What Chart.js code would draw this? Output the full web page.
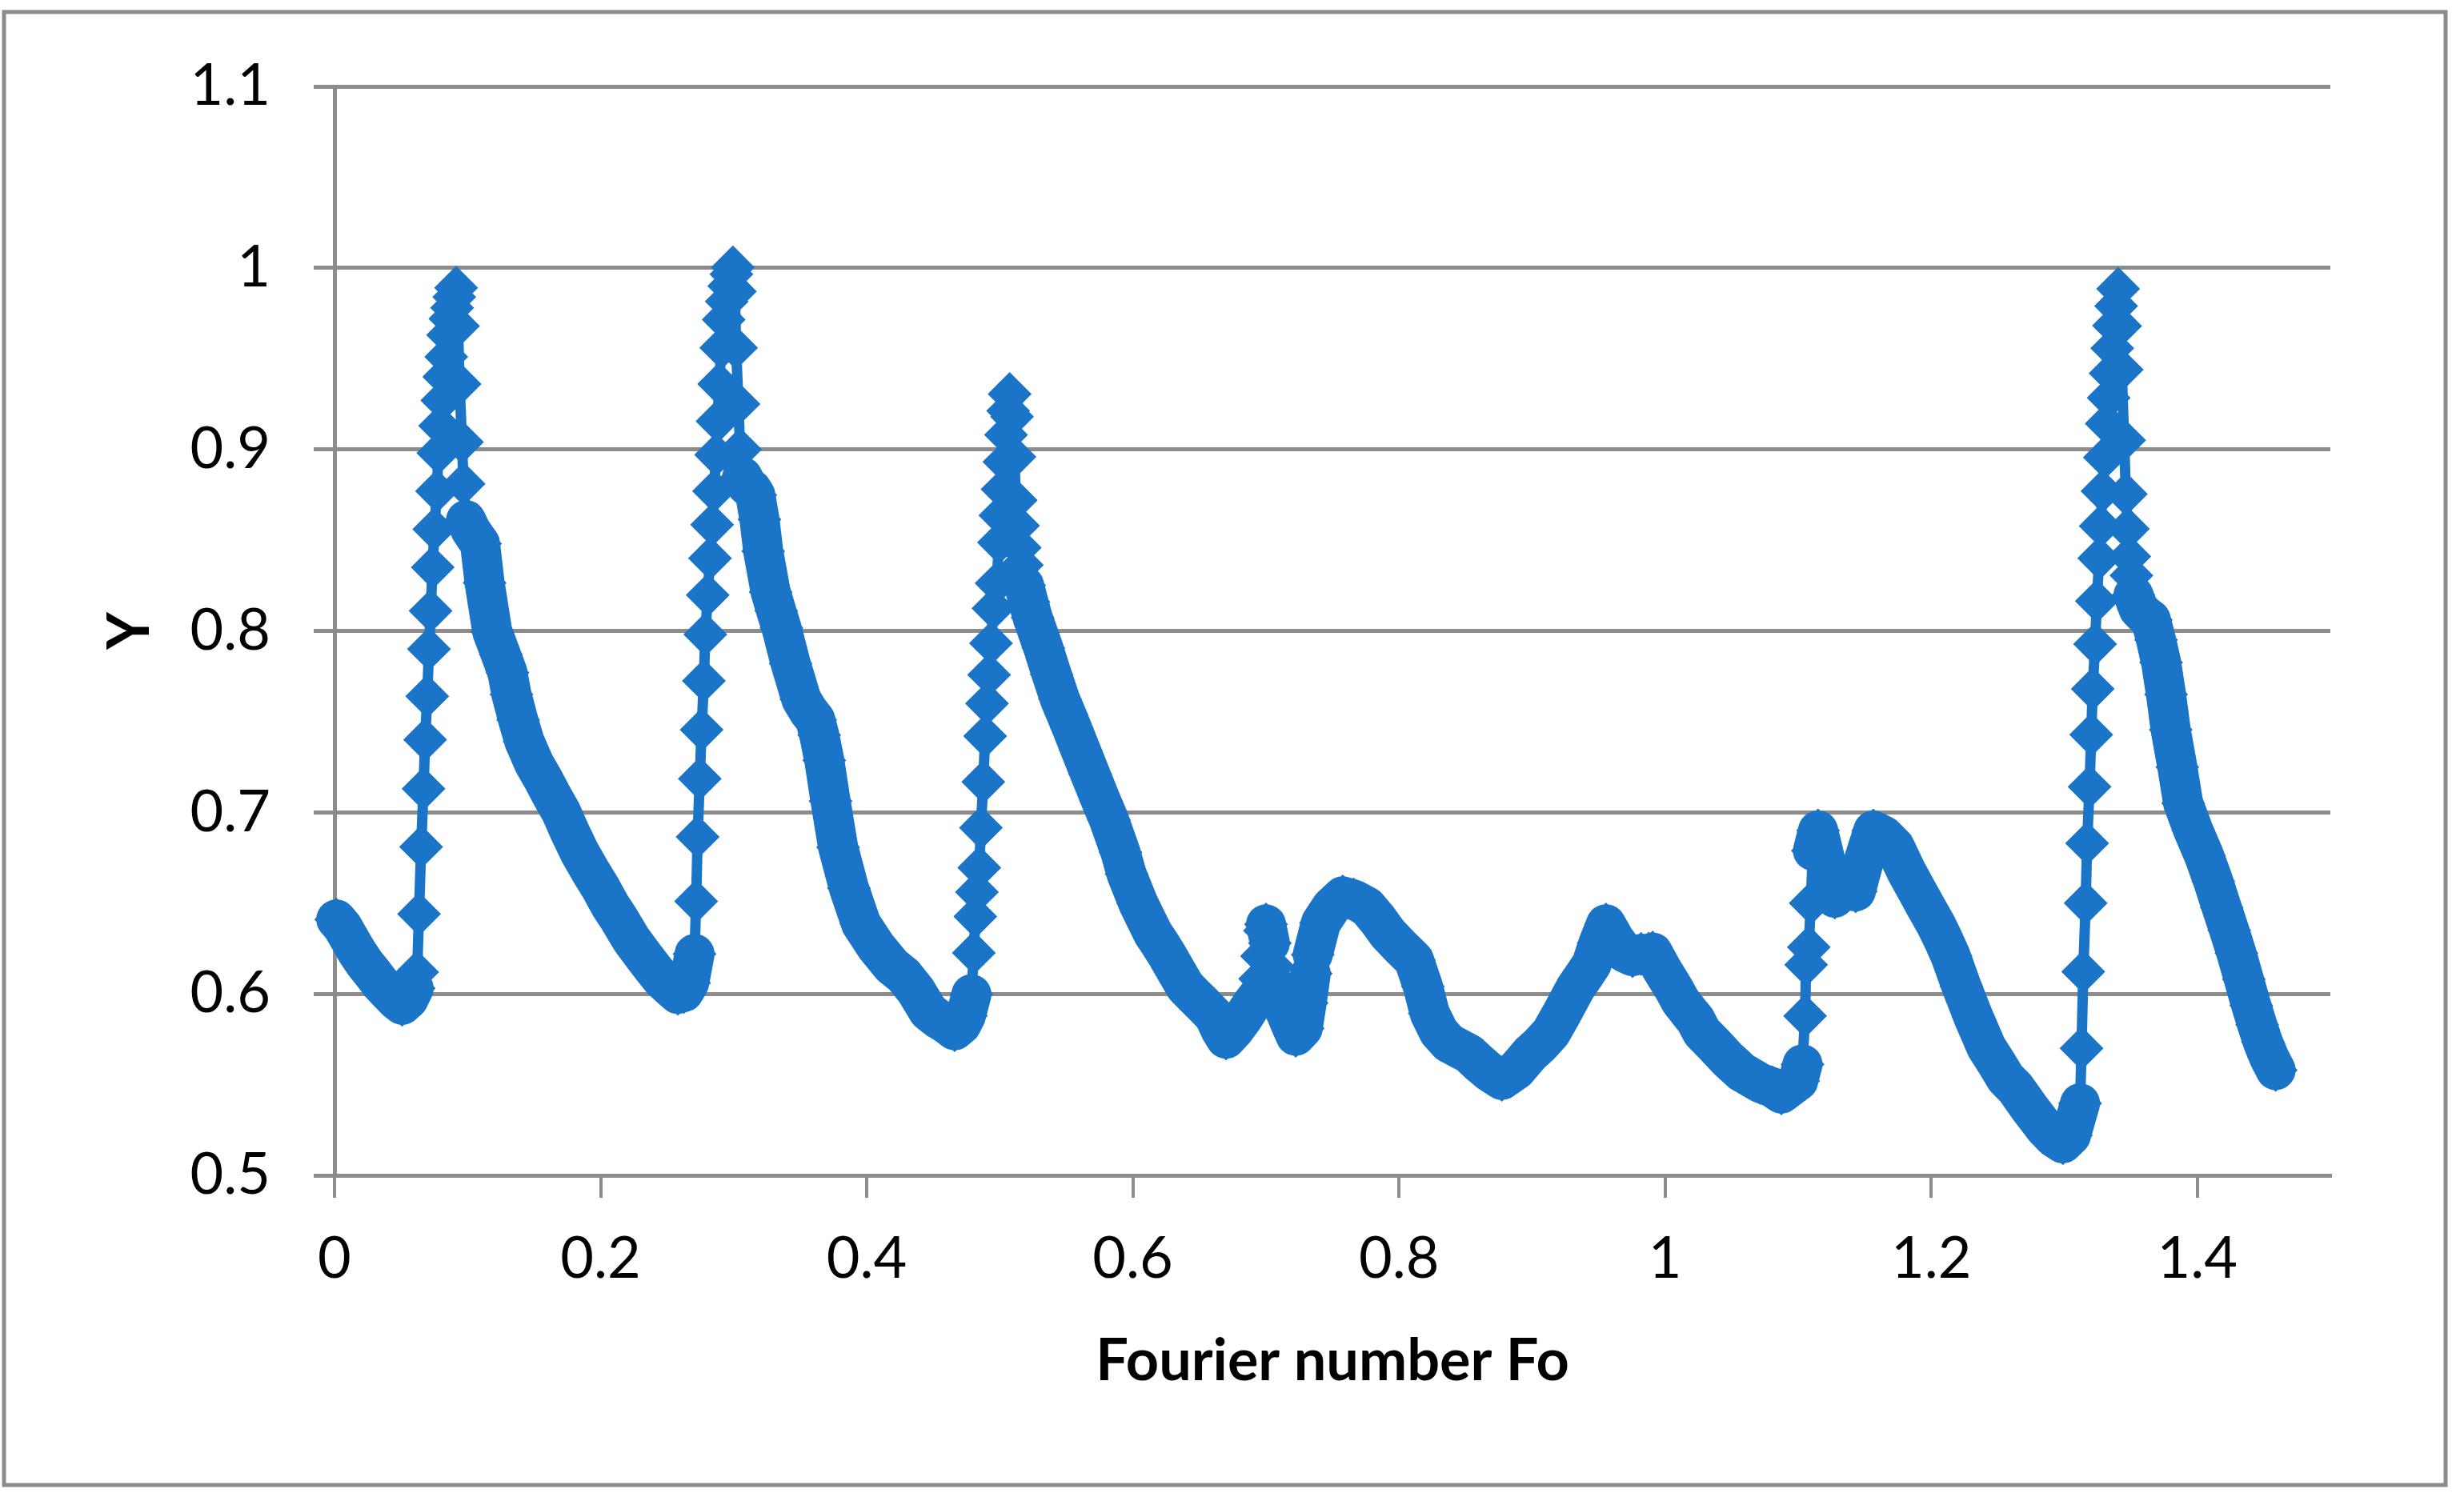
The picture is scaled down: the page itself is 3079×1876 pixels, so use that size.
<!DOCTYPE html>
<html>
<head>
<meta charset="utf-8">
<script src="https://cdn.jsdelivr.net/npm/chart.js@4.4.1/dist/chart.umd.min.js"></script>
<style>
  html, body { margin: 0; padding: 0; background: #ffffff; }
  #wrap { position: relative; width: 3079px; height: 1876px; }
  canvas { display: block; }
</style>
</head>
<body>
<div id="wrap"><canvas id="chart" width="3079" height="1876"></canvas></div>
<script>
// ---- Data (in time order) ----
const fourierNumber = [
  0.0013, 0.0060, 0.0115, 0.0170, 0.0230, 0.0290, 0.0347, 0.0405, 0.0462, 0.0508, 0.0555, 0.0595,
  0.0621, 0.0635, 0.0651, 0.0669, 0.0681, 0.0697, 0.0710, 0.0722, 0.0738, 0.0750, 0.0770, 0.0780, 0.0794, 0.0810, 0.0825, 0.0840, 0.0854, 0.0870, 0.0884, 0.0900, 0.0914,
  0.0928, 0.0940, 0.0958, 0.0970, 0.0988, 0.1020, 0.1055, 0.1094, 0.1128, 0.1186, 0.1250, 0.1300, 0.1330, 0.1380, 0.1428, 0.1500, 0.1566, 0.1635, 0.1704, 0.1770, 0.1842, 0.1920, 0.2003, 0.2070, 0.2141, 0.2230, 0.2325, 0.2394, 0.2460, 0.2534, 0.2580, 0.2625, 0.2665,
  0.2706, 0.2718, 0.2729, 0.2745, 0.2759, 0.2776, 0.2787, 0.2805, 0.2822, 0.2838, 0.2852, 0.2868, 0.2879, 0.2891, 0.2907, 0.2925, 0.2948, 0.2967, 0.2983, 0.2994,
  0.3009, 0.3018, 0.3036, 0.3048, 0.3065, 0.3100, 0.3135, 0.3163, 0.3194, 0.3222, 0.3278, 0.3320, 0.3359, 0.3428, 0.3509, 0.3560, 0.3613, 0.3643, 0.3681, 0.3728, 0.3785, 0.3866, 0.3958, 0.4070, 0.4188, 0.4280, 0.4372, 0.4463, 0.4540, 0.4601, 0.4660, 0.4710, 0.4745,
  0.4787, 0.4805, 0.4816, 0.4828, 0.4846, 0.4858, 0.4876, 0.4890, 0.4904, 0.4920, 0.4934, 0.4952, 0.4976, 0.4994, 0.5005, 0.5021, 0.5035, 0.5047, 0.5063, 0.5074,
  0.5092, 0.5110, 0.5120, 0.5137, 0.5150, 0.5166, 0.5183, 0.5215, 0.5247, 0.5327, 0.5390, 0.5452, 0.5500, 0.5540, 0.5608, 0.5680, 0.5762, 0.5820, 0.5907, 0.5953, 0.6041, 0.6100, 0.6152, 0.6200, 0.6260, 0.6330, 0.6394, 0.6460, 0.6530, 0.6609, 0.6660, 0.6700,
  0.6760, 0.6830, 0.6890, 0.6941, 0.6956, 0.6971, 0.6993, 0.7001, 0.7030, 0.7055, 0.7080, 0.7120, 0.7170, 0.7224, 0.7276, 0.7306, 0.7337, 0.7352, 0.7414, 0.7493, 0.7577, 0.7660, 0.7760, 0.7840, 0.7916, 0.8010, 0.8113, 0.8180, 0.8232, 0.8300, 0.8374, 0.8450, 0.8527, 0.8600, 0.8680, 0.8773, 0.8880, 0.8988, 0.9060, 0.9142, 0.9230, 0.9326, 0.9390, 0.9448, 0.9500, 0.9556, 0.9620, 0.9690, 0.9755, 0.9820, 0.9877, 0.9907, 0.9976, 1.0068, 1.0119, 1.0180, 1.0229, 1.0276, 1.0367, 1.0470, 1.0575, 1.0714, 1.0805, 1.0874, 1.1000,
  1.1033, 1.1052, 1.1060, 1.1080, 1.1095, 1.1111, 1.1150, 1.1210, 1.1275, 1.1360, 1.1433, 1.1500, 1.1565, 1.1645, 1.1726, 1.1810, 1.1892, 1.1960, 1.2037, 1.2090, 1.2145, 1.2227, 1.2317, 1.2416, 1.2490, 1.2559, 1.2634, 1.2743, 1.2855, 1.2920, 1.2990, 1.3050,
  1.3119, 1.3130, 1.3143, 1.3161, 1.3172, 1.3190, 1.3203, 1.3214, 1.3232, 1.3245, 1.3263, 1.3274, 1.3287, 1.3305, 1.3319, 1.3334, 1.3348, 1.3361, 1.3374, 1.3390, 1.3405,
  1.3420, 1.3432, 1.3450, 1.3463, 1.3478, 1.3489, 1.3505, 1.3520, 1.3560, 1.3600, 1.3650, 1.3690, 1.3728, 1.3765, 1.3800, 1.3850, 1.3894, 1.3970, 1.4050, 1.4120, 1.4183, 1.4240, 1.4294, 1.4350, 1.4405, 1.4450, 1.4493, 1.4540, 1.4589
];
const responseY = [
  0.641, 0.637, 0.630, 0.623, 0.6165, 0.611, 0.6055, 0.601, 0.5967, 0.594, 0.597, 0.603,
  0.612, 0.644, 0.681, 0.713, 0.740, 0.764, 0.790, 0.811, 0.835, 0.856, 0.877, 0.898, 0.913, 0.927, 0.940, 0.951, 0.963, 0.972, 0.978, 0.984, 0.989,
  0.968, 0.936, 0.904, 0.881, 0.861, 0.856, 0.852, 0.848, 0.8265, 0.7995, 0.787, 0.777, 0.765, 0.751, 0.739, 0.727, 0.7185, 0.709, 0.700, 0.689, 0.678, 0.668, 0.658, 0.649, 0.641, 0.630, 0.6206, 0.614, 0.608, 0.603, 0.600, 0.601, 0.606,
  0.622, 0.651, 0.6865, 0.7185, 0.7455, 0.7725, 0.798, 0.8197, 0.840, 0.8585, 0.877, 0.897, 0.9155, 0.936, 0.956, 0.9715, 0.9815, 0.990, 0.9965, 1.0003,
  0.987, 0.956, 0.925, 0.900, 0.885, 0.880, 0.878, 0.8748, 0.8614, 0.8439, 0.8214, 0.811, 0.8017, 0.782, 0.7623, 0.756, 0.751, 0.7426, 0.7287, 0.7062, 0.6808, 0.6583, 0.6386, 0.626, 0.6155, 0.610, 0.6015, 0.5904, 0.586, 0.5833, 0.580, 0.583, 0.588,
  0.5998, 0.6226, 0.6426, 0.6561, 0.6695, 0.6915, 0.7168, 0.742, 0.760, 0.7758, 0.7932, 0.8124, 0.8262, 0.8487, 0.8636, 0.878, 0.8931, 0.908, 0.9212, 0.9305,
  0.918, 0.8959, 0.872, 0.858, 0.8459, 0.8363, 0.825, 0.816, 0.8073, 0.7906, 0.776, 0.7624, 0.754, 0.7468, 0.7342, 0.721, 0.7061, 0.696, 0.678, 0.666, 0.6499, 0.641, 0.6333, 0.628, 0.621, 0.612, 0.604, 0.599, 0.594, 0.588, 0.580, 0.5753,
  0.580, 0.587, 0.594, 0.5988, 0.6083, 0.6208, 0.6348, 0.6383, 0.628, 0.615, 0.603, 0.595, 0.586, 0.5769, 0.581, 0.595, 0.6112, 0.6216, 0.6392, 0.648, 0.6537, 0.652, 0.648, 0.641, 0.6333, 0.626, 0.6186, 0.604, 0.5892, 0.579, 0.573, 0.570, 0.567, 0.562, 0.557, 0.5526, 0.558, 0.5672, 0.572, 0.5786, 0.590, 0.6032, 0.610, 0.6164, 0.628, 0.6383, 0.630, 0.623, 0.6208, 0.622, 0.6221, 0.6228, 0.6135, 0.6025, 0.5957, 0.590, 0.5856, 0.579, 0.5721, 0.564, 0.557, 0.551, 0.5485, 0.5451, 0.552,
  0.5612, 0.5878, 0.616, 0.6257, 0.650, 0.6789, 0.690, 0.672, 0.653, 0.659, 0.6565, 0.675, 0.690, 0.687, 0.681, 0.668, 0.657, 0.648, 0.638, 0.630, 0.621, 0.6042, 0.5873, 0.5705, 0.562, 0.5536, 0.548, 0.5367, 0.526, 0.521, 0.5177, 0.522,
  0.5397, 0.570, 0.6122, 0.650, 0.683, 0.7141, 0.7428, 0.768, 0.7927, 0.8164, 0.840, 0.8578, 0.877, 0.8956, 0.9142, 0.9284, 0.9419, 0.9557, 0.9682, 0.979, 0.9885,
  0.968, 0.9439, 0.905, 0.8754, 0.8562, 0.841, 0.8305, 0.8197, 0.812, 0.809, 0.8062, 0.795, 0.7826, 0.765, 0.7455, 0.725, 0.705, 0.690, 0.6763, 0.662, 0.6476, 0.635, 0.6224, 0.608, 0.5937, 0.583, 0.5734, 0.565, 0.558
];
const xTickValues = [0, 0.2, 0.4, 0.6, 0.8, 1, 1.2, 1.4];
const xTickLabels = ['0', '0.2', '0.4', '0.6', '0.8', '1', '1.2', '1.4'];
const yTickValues = [0.5, 0.6, 0.7, 0.8, 0.9, 1.0, 1.1];
const yTickLabels = ['0.5', '0.6', '0.7', '0.8', '0.9', '1', '1.1'];
const xAxisTitle = 'Fourier number Fo';
const yAxisTitle = 'Y';

// ---- Styling ----
const BLUE = '#1a74c7';
const GRAY = '#8c8c8c';
const FONT = 'Lato, "Open Sans", "DejaVu Sans", sans-serif';

const points = [];
const n = Math.min(fourierNumber.length, responseY.length);
for (let i = 0; i < n; i++) points.push({ x: fourierNumber[i], y: responseY[i] });

const framePlugin = {
  id: 'frame',
  beforeDraw(chart) {
    const ctx = chart.ctx;
    ctx.save();
    ctx.fillStyle = '#ffffff';
    ctx.fillRect(0, 0, chart.width, chart.height);
    ctx.strokeStyle = GRAY;
    ctx.lineWidth = 5;
    ctx.strokeRect(5, 15, 3051, 1841);
    ctx.restore();
  }
};

// The dense stretches of the original series merge into a solid band of markers,
// while the fast (near-vertical) rises keep a thin connector between separate markers.
function segmentWidth(ctx) {
  const dx = Math.abs(ctx.p1.x - ctx.p0.x);
  const dy = Math.abs(ctx.p1.y - ctx.p0.y);
  return (dx < 4.5 || dy > 12 * dx) ? 13 : 50;
}

new Chart(document.getElementById('chart'), {
  type: 'scatter',
  data: {
    datasets: [{
      data: points,
      showLine: true,
      borderColor: BLUE,
      backgroundColor: BLUE,
      borderWidth: 13,
      borderJoinStyle: 'round',
      borderCapStyle: 'round',
      tension: 0,
      segment: { borderWidth: segmentWidth },
      pointStyle: 'rectRot',
      pointRadius: 26,
      pointBorderWidth: 2,
      pointBackgroundColor: BLUE,
      pointBorderColor: BLUE,
      clip: false
    }]
  },
  options: {
    responsive: false,
    animation: false,
    devicePixelRatio: 1,
    layout: { padding: { left: 0, right: 167, top: 108, bottom: 0 } },
    plugins: {
      legend: { display: false },
      tooltip: { enabled: false }
    },
    scales: {
      x: {
        type: 'linear',
        position: 'bottom',
        min: 0,
        max: 1.5,
        afterBuildTicks: s => { s.ticks = xTickValues.map(v => ({ value: v })); },
        afterFit: s => { s.height = 407; },
        ticks: {
          callback: (v, i) => xTickLabels[i],
          font: { family: FONT, size: 72 },
          color: '#000000',
          padding: 34,
          maxRotation: 0,
          autoSkip: false
        },
        grid: {
          drawOnChartArea: false,
          drawTicks: true,
          tickLength: 28,
          tickWidth: 4,
          tickColor: GRAY,
          color: GRAY,
          lineWidth: 4
        },
        border: { display: true, color: GRAY, width: 5 },
        title: {
          display: true,
          text: xAxisTitle,
          color: '#000000',
          font: { family: FONT, size: 72, weight: 'bold' },
          padding: { top: 0, bottom: 131 }
        }
      },
      y: {
        type: 'linear',
        position: 'left',
        min: 0.5,
        max: 1.1,
        afterBuildTicks: s => { s.ticks = yTickValues.map(v => ({ value: v })); },
        afterFit: s => { s.width = 418; },
        ticks: {
          callback: (v, i) => yTickLabels[i],
          font: { family: FONT, size: 72 },
          color: '#000000',
          padding: 54
        },
        grid: {
          color: GRAY,
          lineWidth: 5,
          drawTicks: true,
          tickLength: 26,
          tickWidth: 5,
          tickColor: GRAY
        },
        border: { display: true, color: GRAY, width: 5 },
        title: {
          display: true,
          text: yAxisTitle,
          color: '#000000',
          font: { family: FONT, size: 72, weight: 'bold' },
          padding: { top: 120, bottom: 0 }
        }
      }
    }
  },
  plugins: [framePlugin]
});
</script>
</body>
</html>
